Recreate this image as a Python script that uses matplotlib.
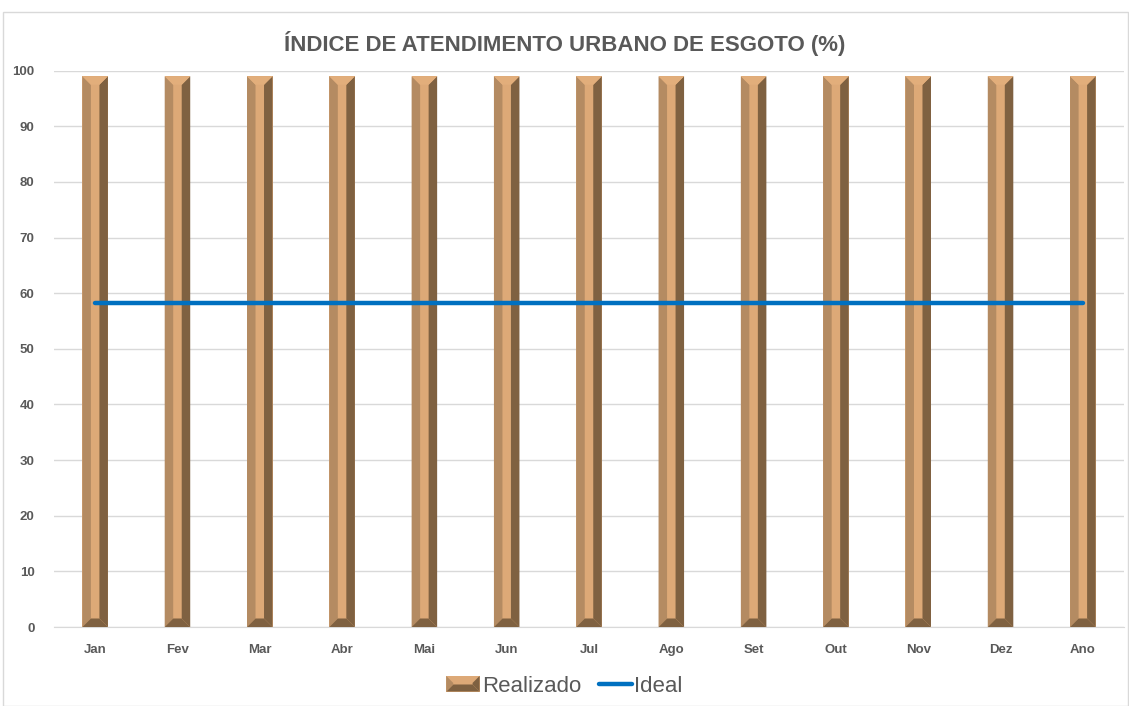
import matplotlib
matplotlib.use("Agg")
import matplotlib.pyplot as plt
from matplotlib.patches import Polygon, Rectangle
from matplotlib.lines import Line2D
from matplotlib.legend_handler import HandlerBase

months = ["Jan", "Fev", "Mar", "Abr", "Mai", "Jun", "Jul", "Ago", "Set", "Out", "Nov", "Dez", "Ano"]
realizado = [99.0] * 13
ideal = [58.2] * 13

LIGHT = "#B48B62"
MID = "#DDA977"
DARK = "#7F6141"
TOP = "#E2AE7B"
GRAY = "#595959"

plt.rcParams["font.family"] = ["Liberation Sans Narrow", "Liberation Sans", "DejaVu Sans"]

fig = plt.figure(figsize=(11.29, 7.06), dpi=100)
ax = fig.add_axes([54 / 1129, 1 - 627 / 706, 1070 / 1129, (627 - 70.7) / 706])

# frame around the chart area
fig.patches.append(Rectangle((3 / 1129, 0.0), 1125 / 1129, 1 - 12 / 706, transform=fig.transFigure,
                             fill=False, edgecolor="#D9D9D9", lw=1))

x = list(range(len(months)))
bars = ax.bar(x, realizado, width=0.31, color=MID, zorder=2)
ax.plot(x, ideal, color="#0070C0", lw=3.2, solid_capstyle="round", zorder=4)

ax.set_xlim(-0.5, len(months) - 0.5)
ax.set_ylim(0, 100)

# bevel effect: depth in x is a third of the bar, converted to y units
px_x = ax.transData.transform((1, 0))[0] - ax.transData.transform((0, 0))[0]
px_y = ax.transData.transform((0, 1))[1] - ax.transData.transform((0, 0))[1]
for b in bars:
    x0, w, h = b.get_x(), b.get_width(), b.get_height()
    x1 = x0 + w
    d = w / 3
    dy = d * px_x / px_y
    faces = [
        ([(x0, 0), (x0 + d, dy), (x0 + d, h - dy), (x0, h)], LIGHT),
        ([(x1, 0), (x1 - d, dy), (x1 - d, h - dy), (x1, h)], DARK),
        ([(x0, h), (x1, h), (x1 - d, h - dy), (x0 + d, h - dy)], TOP),
        ([(x0, 0), (x1, 0), (x1 - d, dy), (x0 + d, dy)], DARK),
    ]
    for pts, c in faces:
        ax.add_patch(Polygon(pts, closed=True, facecolor=c, edgecolor="none", zorder=3))

ax.set_yticks(range(0, 101, 10))
ax.set_xticks(x)
ax.set_xticklabels(months)
ax.tick_params(length=0, labelcolor=GRAY, labelsize=9.5)
ax.tick_params(axis="x", pad=12.5)
ax.tick_params(axis="y", pad=14)
for lab in ax.get_xticklabels() + ax.get_yticklabels():
    lab.set_fontweight("bold")
ax.grid(axis="y", color="#D9D9D9", lw=1, zorder=0)
ax.set_axisbelow(True)
for s in ["top", "right", "left"]:
    ax.spines[s].set_visible(False)
ax.spines["bottom"].set_color("#D9D9D9")

fig.text(0.5, 1 - 43 / 706, "ÍNDICE DE ATENDIMENTO URBANO DE ESGOTO (%)", ha="center", va="center",
         fontsize=16, fontweight="bold", color=GRAY)


class BevelHandler(HandlerBase):
    def create_artists(self, legend, orig, xd, yd, width, height, fontsize, trans):
        x0, y0, x1, y1 = -xd, -yd, -xd + width, -yd + height
        d = height * 0.45
        arts = [
            Polygon([(x0, y0), (x1, y0), (x1, y1), (x0, y1)], facecolor=MID, edgecolor="none"),
            Polygon([(x0, y0), (x1, y0), (x1 - d, y0 + d), (x0 + d, y0 + d)], facecolor=DARK, edgecolor="none"),
            Polygon([(x0, y0), (x0 + d, y0 + d), (x0 + d, y1 - d), (x0, y1)], facecolor=LIGHT, edgecolor="none"),
            Polygon([(x1, y0), (x1 - d, y0 + d), (x1 - d, y1 - d), (x1, y1)], facecolor=DARK, edgecolor="none"),
        ]
        for a in arts:
            a.set_transform(trans)
        return arts


h_real = Rectangle((0, 0), 1, 1, color=MID)
h_ideal = Line2D([], [], color="#0070C0", lw=3.2, solid_capstyle="round")
fig.legend([h_real, h_ideal], ["Realizado", "Ideal"], loc="center", bbox_to_anchor=(0.5, 1 - 686 / 706),
           ncol=2, frameon=False, fontsize=16, labelcolor=GRAY, handlelength=1.5, handletextpad=0.1,
           columnspacing=0.8, handler_map={Rectangle: BevelHandler()})

fig.savefig("out.png", dpi=100)
